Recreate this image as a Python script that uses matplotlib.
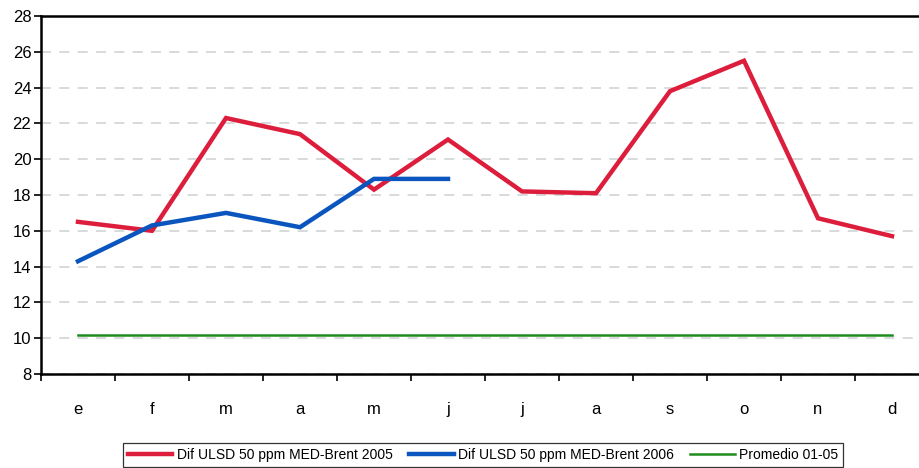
import numpy as np
import matplotlib
matplotlib.use('Agg')
import matplotlib.pyplot as plt

plt.rcParams['font.family'] = ['Liberation Sans', 'DejaVu Sans']

# Data
months = ['e', 'f', 'm', 'a', 'm', 'j', 'j', 'a', 's', 'o', 'n', 'd']
dif_2005 = [16.5, 16.0, 22.3, 21.4, 18.3, 21.1, 18.2, 18.1, 23.8, 25.5, 16.7, 15.7]
dif_2006 = [14.3, 16.3, 17.0, 16.2, 18.9, 18.9]
promedio = [10.2] * 12

labels = ['Dif ULSD 50 ppm MED-Brent 2005',
          'Dif ULSD 50 ppm MED-Brent 2006',
          'Promedio 01-05']

fig = plt.figure(figsize=(9.2, 4.68), dpi=100)
ax = fig.add_axes([41 / 920, 1 - 374 / 468, 888 / 920, 358 / 468])

x = np.arange(len(months))
ax.plot(x, dif_2005, color='#dc1e3c', lw=3.2, label=labels[0], solid_joinstyle='miter')
ax.plot(x[:len(dif_2006)], dif_2006, color='#0a55be', lw=3.2, label=labels[1], solid_joinstyle='miter')
ax.plot(x, promedio, color='#1e8c1e', lw=1.8, label=labels[2])

ax.set_xlim(-0.5, 11.5)
ax.set_ylim(8, 28)
ax.set_yticks(np.arange(8, 29, 2))
ax.set_xticks(x)
ax.set_xticklabels(months)
ax.set_xticks(np.arange(-0.5, 12, 1), minor=True)
ax.tick_params(axis='x', which='major', length=0, pad=20, labelsize=12)
ax.tick_params(axis='x', which='minor', length=5, width=1.2, direction='out')
ax.tick_params(axis='y', length=5, width=1.2, direction='out', labelsize=12, pad=2)

ax.yaxis.grid(True, color='#cfd4d4', linestyle=(0, (6, 5)), lw=1.2)
ax.set_axisbelow(True)

for s in ['left', 'bottom', 'top']:
    ax.spines[s].set_linewidth(1.8)
ax.spines['right'].set_visible(False)

leg = fig.legend(loc='center', bbox_to_anchor=(483 / 920, 1 - 455 / 468), ncol=3,
                 frameon=True, fancybox=False, fontsize=10, handlelength=3.2,
                 handletextpad=0.3, columnspacing=1.2, borderpad=0.35)
leg.get_frame().set_edgecolor('black')
leg.get_frame().set_linewidth(0.9)

fig.savefig('out.png', dpi=100)
